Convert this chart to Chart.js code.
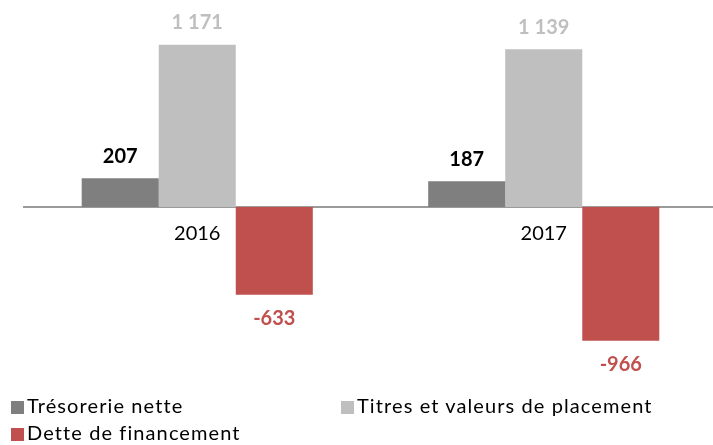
<!DOCTYPE html>
<html>
<head>
<meta charset="utf-8">
<script src="https://cdn.jsdelivr.net/npm/chart.js@4/dist/chart.umd.min.js"></script>
<style>
  html, body { margin: 0; padding: 0; background: #fff; overflow: hidden; width: 713px; height: 445px; }
  #wrap { position: absolute; left: 0; top: 0; width: 720px; height: 385px; }
  #legend { position: absolute; left: 0; top: 0; width: 713px; height: 445px; pointer-events: none;
            font-family: Lato, "Liberation Sans", sans-serif; font-size: 20px; letter-spacing: 1.1px; color: #000; }
  .item { position: absolute; white-space: nowrap; line-height: 24px; }
  .box { position: absolute; width: 13px; height: 13px; }
  .txt { position: absolute; }
</style>
</head>
<body>
<div id="wrap"><canvas id="c" width="720" height="385"></canvas></div>
<div id="legend"></div>
<script>
// Years on the category axis
const years = ['2016', '2017'];

// Series names
const seriesNames = ['Trésorerie nette', 'Titres et valeurs de placement', 'Dette de financement'];

// Values per series (one value per year)
const tresorerie = [207, 187];
const titres = [1171, 1139];
const dette = [-633, -966];

// Colours
const barColors = ['#7f7f7f', '#bfbfbf', '#c0504d'];
const valueColors = ['#000000', '#bfbfbf', '#c0504d'];

// Legend placement: [left, top] of each entry
const legendSlots = [[11, 397], [341, 397], [11, 424]];

const FONT = 'Lato, "Liberation Sans", sans-serif';

function fmt(v) {
  const s = Math.abs(v).toString().replace(/\B(?=(\d{3})+(?!\d))/g, ' ');
  return (v < 0 ? '-' : '') + s;
}

const valueLabels = {
  id: 'valueLabels',
  afterDatasetsDraw(chart) {
    const ctx = chart.ctx;
    ctx.save();
    ctx.font = 'bold 20px ' + FONT;
    ctx.textAlign = 'center';
    ctx.textBaseline = 'middle';
    chart.data.datasets.forEach((ds, i) => {
      const meta = chart.getDatasetMeta(i);
      meta.data.forEach((bar, j) => {
        const v = ds.data[j];
        ctx.fillStyle = valueColors[i];
        const y = v >= 0 ? bar.y - 22 : bar.y + 24;
        ctx.fillText(fmt(v), bar.x, y);
      });
    });
    ctx.restore();
  }
};

const seriesData = [tresorerie, titres, dette];

const chart = new Chart(document.getElementById('c'), {
  type: 'bar',
  data: {
    labels: years,
    datasets: seriesData.map((d, i) => ({
      label: seriesNames[i],
      data: d,
      backgroundColor: barColors[i],
      borderWidth: 0,
      barPercentage: 1,
      categoryPercentage: 0.667
    }))
  },
  options: {
    responsive: false,
    animation: false,
    devicePixelRatio: 1,
    layout: { padding: { left: 24, right: 3, top: 0, bottom: 0 } },
    plugins: { legend: { display: false }, tooltip: { enabled: false } },
    scales: {
      x: {
        position: { y: 0 },
        grid: { display: false, drawTicks: false },
        border: { display: true, color: '#9a9a9a', width: 2 },
        ticks: { color: '#000', padding: 15, font: { family: FONT, size: 20 } },
        afterFit(scale) { scale.height = 0; }
      },
      y: {
        display: false,
        min: -1285,
        max: 1495
      }
    }
  },
  plugins: [valueLabels]
});

// Legend built from the chart's datasets
const legend = document.getElementById('legend');
chart.data.datasets.forEach((ds, i) => {
  const item = document.createElement('div');
  item.className = 'item';
  item.style.left = legendSlots[i][0] + 'px';
  item.style.top = legendSlots[i][1] + 'px';
  const box = document.createElement('span');
  box.className = 'box';
  box.style.background = ds.backgroundColor;
  box.style.left = '0px';
  box.style.top = '4px';
  const txt = document.createElement('span');
  txt.className = 'txt';
  txt.style.left = '16px';
  txt.style.top = '-4px';
  txt.textContent = ds.label;
  item.appendChild(box);
  item.appendChild(txt);
  legend.appendChild(item);
});
</script>
</body>
</html>
